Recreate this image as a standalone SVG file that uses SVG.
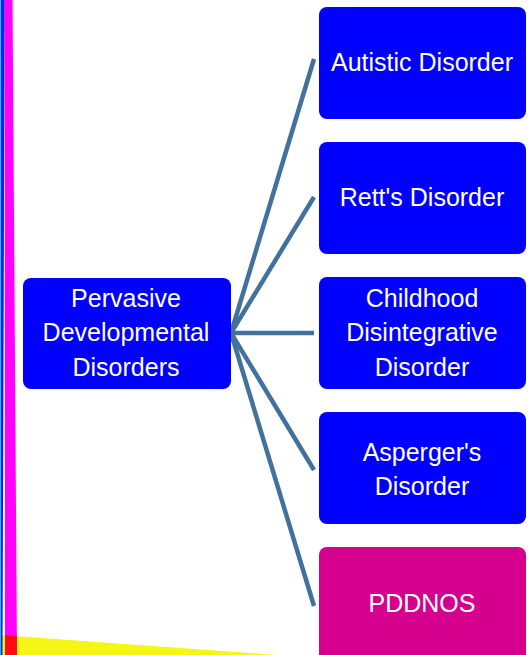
<svg xmlns="http://www.w3.org/2000/svg" width="529" height="655" viewBox="0 0 529 655">
<style>
.box{fill:#0000ff}
.pink{fill:#d6008f}
.t{font-family:"Liberation Sans",Arial,sans-serif;font-size:25px;fill:#ffffff;text-anchor:middle}
.c{stroke:#41719c;stroke-width:4.5;fill:none;stroke-linecap:butt}
</style>
<rect width="529" height="655" fill="#ffffff"/>
<g id="decor">
<polygon points="0,635 277,655 0,655" fill="#f5f516"/>
<rect x="0" y="0" width="1" height="655" fill="#40d8ff"/>
<polygon points="0.8,0 4.7,0 2.5,655 0.8,655" fill="#0020ff"/>
<polygon points="4.7,0 12.5,0 17,655 5,655" fill="#ff00ff"/>
<polygon points="5,635 16.8,636 17,655 5,655" fill="#ff0a14"/>
</g>
<g id="connectors">
<line class="c" x1="231" y1="333" x2="314" y2="59"/>
<line class="c" x1="231" y1="333" x2="314" y2="197"/>
<line class="c" x1="231" y1="333" x2="314" y2="333"/>
<line class="c" x1="231" y1="333" x2="314" y2="470"/>
<line class="c" x1="231" y1="333" x2="314" y2="606"/>
</g>
<g id="pdd">
<rect class="box" x="23" y="278" width="208" height="111" rx="8"/>
<text class="t" x="126" y="307">Pervasive</text>
<text class="t" x="126" y="341">Developmental</text>
<text class="t" x="126" y="376">Disorders</text>
</g>
<g id="autistic">
<rect class="box" x="319" y="7" width="207" height="112" rx="8"/>
<text class="t" x="422" y="71">Autistic Disorder</text>
</g>
<g id="rett">
<rect class="box" x="319" y="142" width="207" height="112" rx="8"/>
<text class="t" x="422" y="206">Rett's Disorder</text>
</g>
<g id="childhood">
<rect class="box" x="319" y="277" width="207" height="112" rx="8"/>
<text class="t" x="422" y="307">Childhood</text>
<text class="t" x="422" y="341">Disintegrative</text>
<text class="t" x="422" y="376">Disorder</text>
</g>
<g id="asperger">
<rect class="box" x="319" y="412" width="207" height="112" rx="8"/>
<text class="t" x="422" y="461">Asperger's</text>
<text class="t" x="422" y="495">Disorder</text>
</g>
<g id="pddnos">
<rect class="pink" x="319" y="547" width="207" height="130" rx="8"/>
<text class="t" x="422" y="612">PDDNOS</text>
</g>
</svg>
